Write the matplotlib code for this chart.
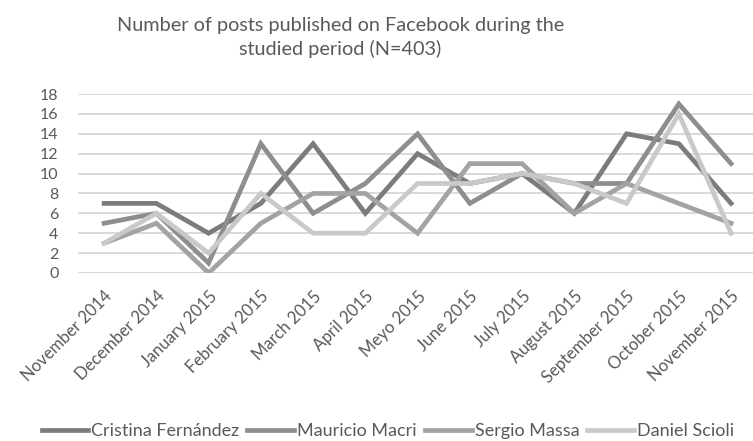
import matplotlib.pyplot as plt

# ── Data ──────────────────────────────────────────────────────────────────────
months = ["November 2014", "December 2014", "January 2015", "February 2015",
          "March 2015", "April 2015", "Meyo 2015", "June 2015", "July 2015",
          "August 2015", "September 2015", "October 2015", "November 2015"]

cristina = [7, 7, 4, 7, 13, 6, 12, 9, 10, 6, 14, 13, 7]
macri    = [5, 6, 1, 13, 6, 9, 14, 7, 10, 9, 9, 17, 11]
massa    = [3, 5, 0, 5, 8, 8, 4, 11, 11, 6, 9, 7, 5]
scioli   = [3, 6, 2, 8, 4, 4, 9, 9, 10, 9, 7, 16, 4]

names  = ["Cristina Fernández", "Mauricio Macri", "Sergio Massa", "Daniel Scioli"]
series = [cristina, macri, massa, scioli]
colors = ["#7c7c7c", "#8e8e8e", "#a3a3a3", "#c9c9c9"]

plt.rcParams["font.family"] = ["Lato", "DejaVu Sans"]
text_col = "#595959"

# ── Figure ────────────────────────────────────────────────────────────────────
fig = plt.figure(figsize=(7.53, 4.41), dpi=100)
ax = fig.add_axes([78 / 753, 1 - 273 / 441, 1 - 78 / 753, (273 - 94) / 441])

x = list(range(len(months)))
for vals, name, col in zip(series, names, colors):
    ax.plot(x, vals, color=col, linewidth=3.4, label=name,
            solid_joinstyle="miter", zorder=3)

ax.set_xlim(-0.5, 12.42)
ax.set_ylim(0, 18)
ax.set_yticks(range(0, 19, 2))
ax.yaxis.grid(True, color="#d9d9d9", linewidth=1.4, zorder=0)
ax.set_axisbelow(True)
for s in ax.spines.values():
    s.set_visible(False)
ax.tick_params(length=0)
ax.tick_params(axis="y", labelsize=11.5, labelcolor=text_col, pad=14)
ax.set_xticks(x)
ax.set_xticklabels(months, rotation=45, ha="right", rotation_mode="anchor",
                   fontsize=12, color=text_col)
ax.tick_params(axis="x", pad=11)

fig.text(0.452, 0.962, "Number of posts published on Facebook during the\nstudied period (N=403)",
         ha="center", va="top", fontsize=14.3, color=text_col, linespacing=1.4)

fig.legend(loc="center", bbox_to_anchor=(0.515, 0.022), ncol=4, frameon=False,
           fontsize=13, labelcolor=text_col, handlelength=2.6,
           handletextpad=0.15, columnspacing=0.45)

plt.savefig("out.png", dpi=100)
